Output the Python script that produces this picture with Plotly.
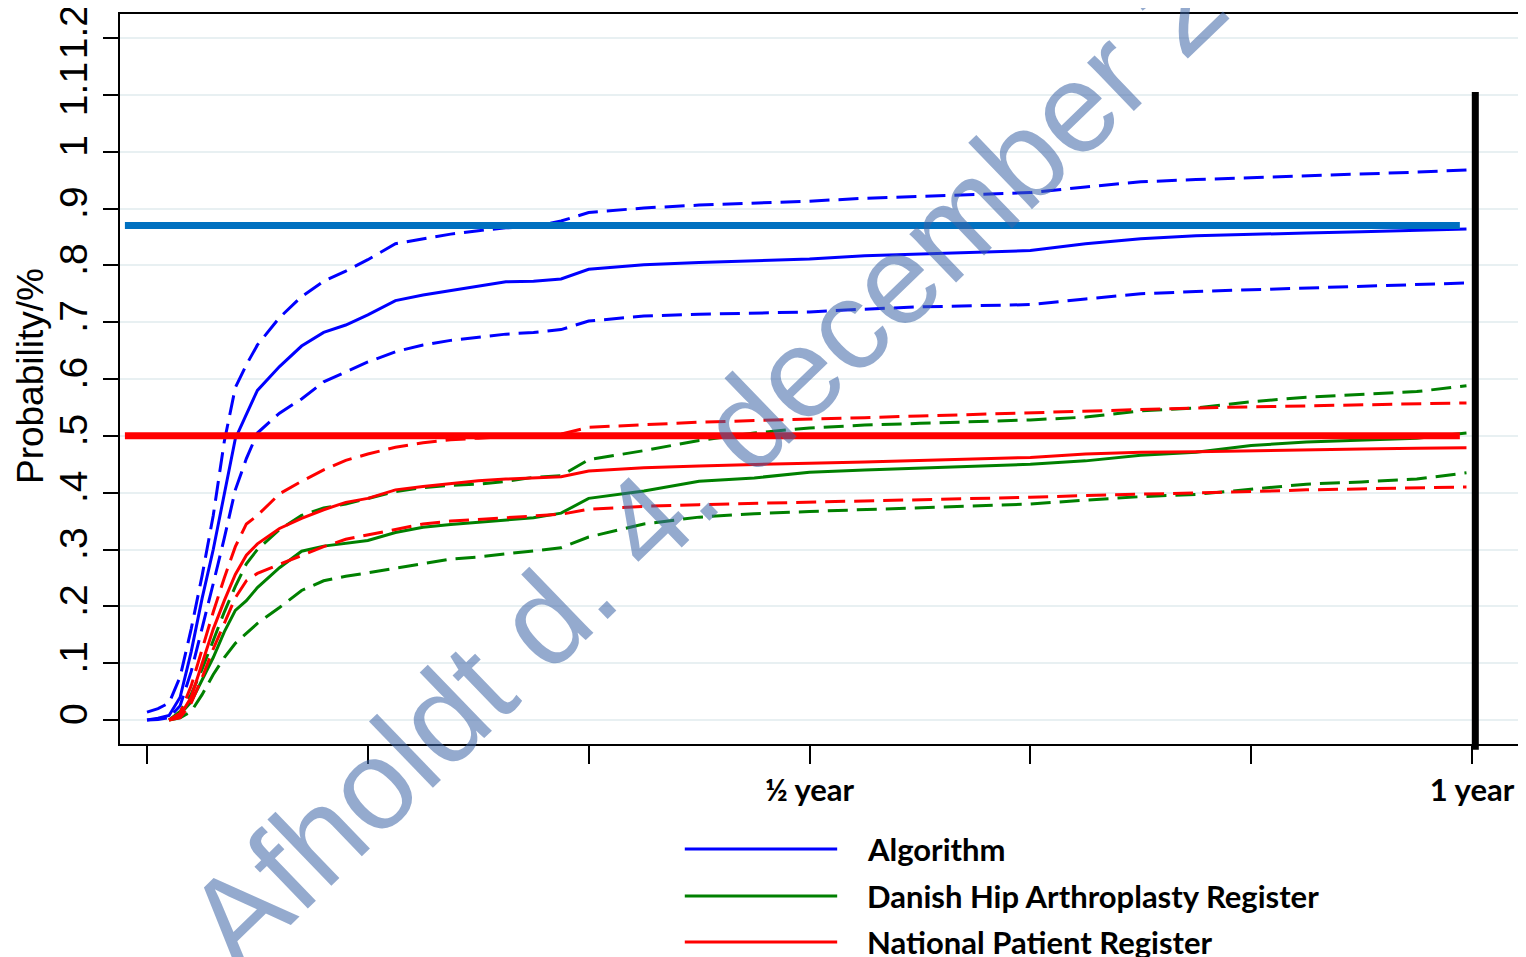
import plotly.graph_objects as go

# ---- data (time in months) ----
t_alg = [0, 0.1, 0.2, 0.3, 0.4, 0.5, 0.6, 0.7, 0.8, 0.9, 1.0, 1.2, 1.4, 1.6, 1.8, 2.0,
         2.25, 2.5, 2.75, 3.0, 3.25, 3.5, 3.75, 4.0, 4.5, 5.0, 5.5, 6.0, 6.5, 7.0, 7.5,
         8.0, 8.5, 9.0, 9.5, 10.0, 10.5, 11.0, 11.5, 11.95]
alg = [0, 0.003, 0.008, 0.04, 0.12, 0.215, 0.30, 0.40, 0.495, 0.538, 0.58, 0.622, 0.658,
       0.682, 0.695, 0.713, 0.738, 0.748, 0.756, 0.763, 0.771, 0.772, 0.776, 0.793, 0.801,
       0.805, 0.808, 0.811, 0.817, 0.820, 0.822, 0.826, 0.838, 0.847, 0.852, 0.855, 0.857,
       0.859, 0.862, 0.864]
alg_hi = [0.014, 0.02, 0.03, 0.076, 0.16, 0.255, 0.36, 0.49, 0.585, 0.625, 0.66, 0.708,
          0.745, 0.772, 0.79, 0.81, 0.838, 0.846, 0.855, 0.861, 0.866, 0.868, 0.878, 0.893,
          0.901, 0.906, 0.909, 0.913, 0.918, 0.921, 0.924, 0.928, 0.938, 0.947, 0.951,
          0.954, 0.958, 0.961, 0.964, 0.968]
alg_lo = [0, 0.001, 0.004, 0.025, 0.085, 0.16, 0.24, 0.32, 0.405, 0.46, 0.505, 0.54, 0.565,
          0.595, 0.612, 0.63, 0.648, 0.66, 0.668, 0.674, 0.679, 0.682, 0.687, 0.702, 0.711,
          0.714, 0.716, 0.718, 0.723, 0.727, 0.729, 0.731, 0.741, 0.75, 0.754, 0.757, 0.76,
          0.763, 0.766, 0.769]

t_reg = [0.2, 0.3, 0.4, 0.5, 0.6, 0.7, 0.8, 0.9, 1.0, 1.2, 1.4, 1.6, 1.8, 2.0, 2.25, 2.5,
         2.75, 3.0, 3.25, 3.5, 3.75, 4.0, 4.5, 5.0, 5.5, 6.0, 6.5, 7.0, 7.5, 8.0, 8.5, 9.0,
         9.5, 10.0, 10.5, 11.0, 11.5, 11.95]
dhar = [0, 0.01, 0.032, 0.07, 0.11, 0.155, 0.193, 0.21, 0.233, 0.268, 0.297, 0.306, 0.311,
        0.316, 0.33, 0.339, 0.344, 0.348, 0.353, 0.356, 0.364, 0.39, 0.403, 0.42, 0.426,
        0.436, 0.44, 0.443, 0.447, 0.45, 0.456, 0.466, 0.471, 0.483, 0.489, 0.492, 0.496,
        0.505]
dhar_hi = [0, 0.015, 0.045, 0.09, 0.14, 0.19, 0.235, 0.275, 0.3, 0.335, 0.36, 0.373, 0.38,
           0.39, 0.402, 0.409, 0.413, 0.415, 0.42, 0.427, 0.43, 0.458, 0.474, 0.492, 0.505,
           0.514, 0.519, 0.522, 0.525, 0.528, 0.533, 0.544, 0.549, 0.56, 0.568, 0.573,
           0.578, 0.588]
dhar_lo = [0, 0.004, 0.015, 0.045, 0.08, 0.11, 0.135, 0.152, 0.17, 0.198, 0.228, 0.245,
           0.253, 0.259, 0.267, 0.276, 0.283, 0.287, 0.292, 0.297, 0.303, 0.322, 0.345,
           0.357, 0.363, 0.367, 0.37, 0.373, 0.377, 0.38, 0.387, 0.393, 0.397, 0.406, 0.415,
           0.419, 0.424, 0.435]
npr = [0, 0.008, 0.04, 0.1, 0.16, 0.21, 0.256, 0.29, 0.31, 0.337, 0.355, 0.37, 0.383, 0.39,
       0.405, 0.411, 0.416, 0.421, 0.424, 0.426, 0.428, 0.438, 0.444, 0.447, 0.45, 0.452,
       0.454, 0.457, 0.46, 0.462, 0.468, 0.471, 0.472, 0.474, 0.476, 0.477, 0.478, 0.479]
npr_hi = [0, 0.012, 0.06, 0.125, 0.19, 0.25, 0.305, 0.345, 0.36, 0.398, 0.42, 0.44, 0.457,
          0.468, 0.48, 0.488, 0.493, 0.496, 0.498, 0.5, 0.503, 0.515, 0.52, 0.524, 0.527,
          0.529, 0.532, 0.535, 0.538, 0.54, 0.543, 0.546, 0.549, 0.551, 0.553, 0.555,
          0.557, 0.558]
npr_lo = [0, 0.004, 0.03, 0.075, 0.125, 0.17, 0.215, 0.245, 0.258, 0.274, 0.29, 0.305,
          0.318, 0.326, 0.336, 0.345, 0.35, 0.353, 0.356, 0.358, 0.362, 0.371, 0.376, 0.379,
          0.381, 0.383, 0.386, 0.388, 0.39, 0.392, 0.395, 0.397, 0.4, 0.402, 0.405, 0.407,
          0.409, 0.41]

ref_x = [-0.2, 11.89]
ref_levels = [0.87, 0.5]
ref_colors = ["#0070C0", "#FF0000"]
year_mark = 12.03

x_tickvals = [0, 2, 4, 6, 8, 10, 12]
x_ticktext = ["", "", "", "½ year", "", "", "1 year"]
y_tickvals = [0, 0.1, 0.2, 0.3, 0.4, 0.5, 0.6, 0.7, 0.8, 0.9, 1.0, 1.1, 1.2]
y_ticktext = ["0", ".1", ".2", ".3", ".4", ".5", ".6", ".7", ".8", ".9", "1", "1.1", "1.2"]

legend_names = ["Algorithm", "Danish Hip Arthroplasty Register", "National Patient Register"]
legend_colors = ["#0000FF", "#008000", "#FF0000"]

BLUE, GREEN, RED = legend_colors
DASH = "20px,9px"
LW = 3

fig = go.Figure()

series = [
    (t_alg, alg_hi, BLUE, DASH), (t_alg, alg_lo, BLUE, DASH), (t_alg, alg, BLUE, "solid"),
    (t_reg, dhar_hi, GREEN, DASH), (t_reg, dhar_lo, GREEN, DASH), (t_reg, dhar, GREEN, "solid"),
    (t_reg, npr_hi, RED, DASH), (t_reg, npr_lo, RED, DASH), (t_reg, npr, RED, "solid"),
]
for tx, ty, col, dash in series:
    fig.add_trace(go.Scatter(x=tx, y=ty, mode="lines",
                             line=dict(color=col, width=LW, dash=dash)))

# reference levels drawn over the curves
for lvl, col in zip(ref_levels, ref_colors):
    fig.add_trace(go.Scatter(x=ref_x, y=[lvl, lvl], mode="lines",
                             line=dict(color=col, width=7), hoverinfo="skip"))

shapes = [dict(type="line", xref="x", yref="paper", x0=year_mark, x1=year_mark,
               y0=-0.008, y1=0.893, line=dict(color="black", width=7))]

annotations = []
leg_y = [-0.1438, -0.2082, -0.2712]
for name, col, yy in zip(legend_names, legend_colors, leg_y):
    shapes.append(dict(type="line", xref="paper", yref="paper", x0=0.404, x1=0.513,
                       y0=yy, y1=yy, line=dict(color=col, width=3)))
    annotations.append(dict(xref="paper", yref="paper", x=0.5329, y=yy, xanchor="left",
                            yanchor="middle", showarrow=False, text=f"<b>{name}</b>",
                            font=dict(family="Lato", size=31, color="black")))

annotations.append(dict(xref="paper", yref="paper", x=-0.0644, y=0.504, textangle=-90,
                        xanchor="center", yanchor="middle",
                        showarrow=False, text="Probability/%",
                        font=dict(family="Liberation Sans", size=37, color="black")))

annotations.append(dict(xref="paper", yref="paper", x=0.419, y=0.385, textangle=-44,
                        xanchor="center", yanchor="middle",
                        showarrow=False, text="Afholdt d. 4. december 2",
                        font=dict(family="Liberation Sans", size=127,
                                  color="rgba(60,100,165,0.55)")))

# page body adds an 8px offset, so the margins are shifted by 8px
fig.update_layout(
    width=1526, height=957,
    margin=dict(l=112, r=16, t=6, b=221, autoexpand=False),
    plot_bgcolor="white", paper_bgcolor="white",
    showlegend=False,
    shapes=shapes, annotations=annotations,
)
fig.update_xaxes(range=[-0.2445, 12.4166], tickvals=x_tickvals,
                 ticktext=[f"<b>{t}</b>" if t else "" for t in x_ticktext],
                 ticks="outside", ticklen=18, tickwidth=2, tickcolor="black",
                 showline=True, linecolor="black", linewidth=2, mirror=True,
                 showgrid=False, zeroline=False, automargin=False,
                 ticklabeloverflow="allow",
                 tickfont=dict(family="Lato", size=31, color="black"))
fig.update_yaxes(range=[-0.0422, 1.2423], tickvals=y_tickvals, ticktext=y_ticktext,
                 tickangle=-90, ticks="outside", ticklen=15, tickwidth=2, tickcolor="black",
                 showline=True, linecolor="black", linewidth=2, mirror=True,
                 showgrid=True, gridcolor="#E8F0F2", gridwidth=2, zeroline=False,
                 automargin=False, ticklabeloverflow="allow",
                 tickfont=dict(family="Liberation Sans", size=39, color="black"))

fig.write_html("out.html")
